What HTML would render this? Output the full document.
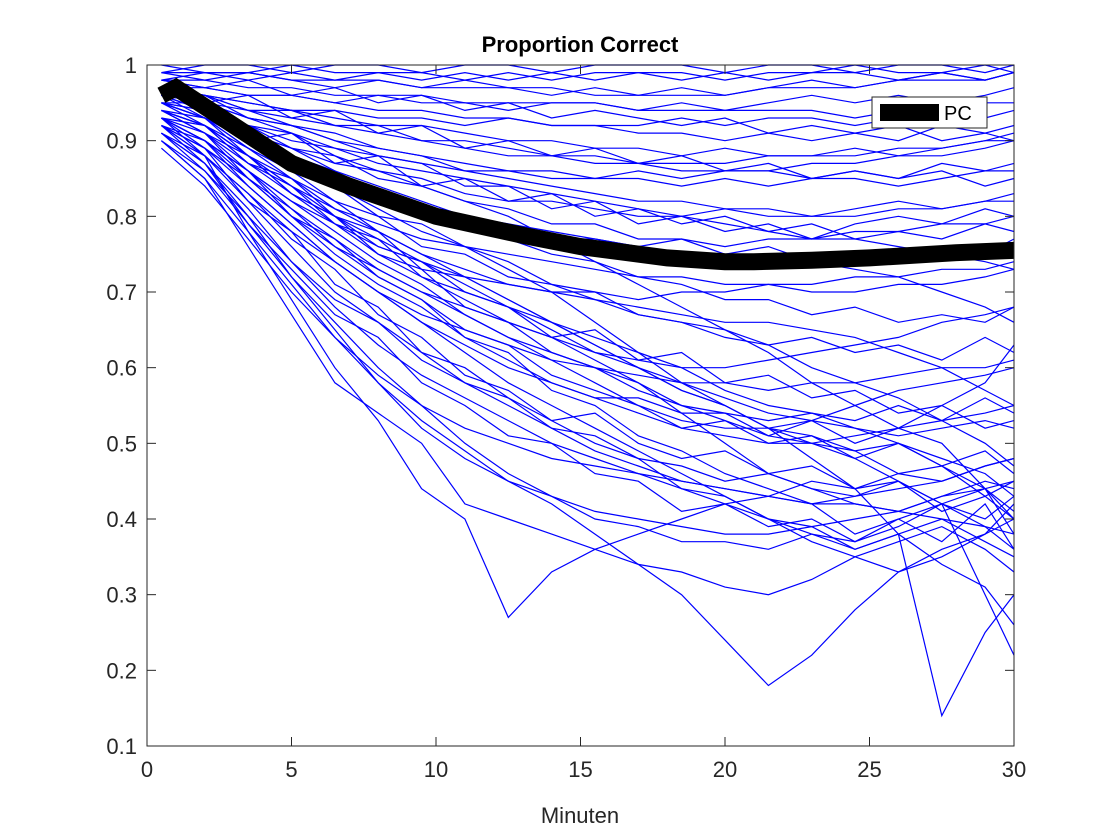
<!DOCTYPE html>
<html><head><meta charset="utf-8"><style>
body{margin:0;background:#fff;}
svg{display:block;font-family:"Liberation Sans",sans-serif;}
</style></head><body>
<svg id="chart" width="1120" height="840">
<rect width="1120" height="840" fill="#fff"/>
<g id="lines"></g>
<g id="axes"></g>
<text x="580" y="52" text-anchor="middle" font-size="22" font-weight="bold" fill="#000">Proportion Correct</text>
<text x="580" y="823" text-anchor="middle" font-size="22" fill="#262626">Minuten</text>
<g>
<rect x="872" y="97" width="115" height="31" fill="#fff" stroke="#262626" stroke-width="1"/>
<line x1="880" y1="112.5" x2="939" y2="112.5" stroke="#000" stroke-width="17"/>
<text x="944" y="120" font-size="20" fill="#000">PC</text>
</g>
</svg>
<script>
const minutes=[0.5,2,3.5,5,6.5,8,9.5,11,12.5,14,15.5,17,18.5,20,21.5,23,24.5,26,27.5,29,30];
const pcMinutes=[0.5,1,3,5,7,10,13,15,18,20,21,23,25,28,30];
const pcValues=[0.96,0.97,0.92,0.87,0.84,0.80,0.775,0.76,0.745,0.74,0.74,0.742,0.745,0.752,0.755];
const xTicks=[0,5,10,15,20,25,30];
const yTicks=[0.1,0.2,0.3,0.4,0.5,0.6,0.7,0.8,0.9,1];
const s01=[0.99,1,1,0.99,1,1,0.99,1,1,0.99,1,1,1,0.99,1,1,0.99,1,1,0.99,1];
const s02=[0.98,0.99,0.98,0.99,0.98,0.99,0.99,0.98,0.99,0.98,0.99,0.99,0.98,0.99,0.98,0.99,0.99,0.98,0.99,0.98,0.99];
const s03=[0.97,0.97,0.96,0.96,0.95,0.96,0.95,0.95,0.94,0.95,0.95,0.94,0.95,0.94,0.95,0.96,0.95,0.96,0.95,0.96,0.97];
const s04=[0.96,0.96,0.95,0.94,0.93,0.92,0.92,0.91,0.90,0.90,0.89,0.89,0.88,0.89,0.88,0.88,0.89,0.88,0.89,0.90,0.90];
const s05=[0.95,0.95,0.93,0.92,0.90,0.89,0.88,0.87,0.86,0.86,0.85,0.85,0.84,0.85,0.84,0.85,0.85,0.84,0.85,0.86,0.86];
const s06=[0.94,0.93,0.91,0.89,0.87,0.86,0.85,0.83,0.82,0.82,0.81,0.80,0.80,0.81,0.80,0.80,0.81,0.82,0.81,0.82,0.83];
const s07=[0.97,0.96,0.95,0.94,0.94,0.93,0.93,0.92,0.93,0.92,0.92,0.92,0.93,0.92,0.93,0.93,0.92,0.93,0.94,0.93,0.94];
const s08=[0.93,0.92,0.89,0.86,0.84,0.82,0.80,0.79,0.78,0.77,0.77,0.76,0.77,0.76,0.77,0.77,0.78,0.78,0.79,0.79,0.80];
const s09=[0.95,0.94,0.92,0.91,0.89,0.88,0.87,0.86,0.86,0.85,0.85,0.86,0.85,0.86,0.86,0.87,0.87,0.88,0.88,0.89,0.90];
const s10=[0.92,0.90,0.86,0.82,0.79,0.76,0.74,0.72,0.71,0.70,0.70,0.69,0.70,0.70,0.71,0.71,0.72,0.72,0.73,0.73,0.74];
const s11=[0.91,0.88,0.83,0.78,0.74,0.70,0.67,0.65,0.63,0.61,0.60,0.59,0.58,0.58,0.57,0.58,0.58,0.59,0.60,0.60,0.61];
const s12=[0.93,0.90,0.85,0.80,0.75,0.71,0.68,0.64,0.61,0.58,0.56,0.54,0.52,0.51,0.50,0.50,0.51,0.52,0.53,0.54,0.55];
const s13=[0.92,0.88,0.82,0.76,0.70,0.66,0.62,0.58,0.55,0.52,0.49,0.47,0.45,0.44,0.43,0.42,0.43,0.44,0.45,0.47,0.48];
const s14=[0.90,0.86,0.79,0.72,0.66,0.60,0.55,0.50,0.46,0.43,0.41,0.40,0.39,0.38,0.38,0.39,0.40,0.41,0.43,0.44,0.45];
const s15=[0.93,0.88,0.78,0.69,0.60,0.53,0.44,0.40,0.27,0.33,0.36,0.38,0.40,0.42,0.43,0.45,0.44,0.46,0.45,0.47,0.48];
const s16=[0.91,0.87,0.80,0.72,0.65,0.58,0.52,0.48,0.45,0.42,0.38,0.34,0.30,0.24,0.18,0.22,0.28,0.33,0.36,0.38,0.40];
const s17=[0.94,0.92,0.88,0.85,0.82,0.78,0.75,0.72,0.69,0.66,0.63,0.60,0.57,0.55,0.52,0.50,0.48,0.45,0.42,0.30,0.22];
const s18=[0.95,0.93,0.90,0.87,0.84,0.81,0.78,0.76,0.73,0.70,0.66,0.62,0.58,0.55,0.52,0.48,0.44,0.38,0.14,0.25,0.30];
const s19=[0.96,0.95,0.93,0.91,0.88,0.86,0.84,0.82,0.80,0.77,0.74,0.71,0.68,0.65,0.62,0.58,0.55,0.52,0.50,0.44,0.40];
const s20=[0.94,0.92,0.88,0.84,0.80,0.77,0.74,0.71,0.68,0.66,0.63,0.60,0.58,0.56,0.54,0.53,0.52,0.51,0.52,0.53,0.52];
const s21=[0.92,0.89,0.84,0.79,0.74,0.70,0.66,0.62,0.58,0.55,0.52,0.49,0.46,0.43,0.40,0.38,0.36,0.38,0.40,0.37,0.35];
const s22=[0.96,0.95,0.94,0.92,0.91,0.89,0.88,0.86,0.85,0.84,0.83,0.82,0.82,0.81,0.81,0.80,0.80,0.81,0.81,0.82,0.82];
const s23=[0.93,0.91,0.87,0.83,0.79,0.75,0.72,0.69,0.66,0.64,0.62,0.61,0.60,0.60,0.61,0.62,0.63,0.64,0.66,0.67,0.68];
const s24=[0.90,0.85,0.76,0.67,0.58,0.54,0.50,0.42,0.40,0.38,0.36,0.34,0.33,0.31,0.30,0.32,0.35,0.37,0.39,0.36,0.33];
const s25=[0.94,0.91,0.86,0.81,0.77,0.73,0.70,0.67,0.64,0.62,0.60,0.57,0.55,0.53,0.51,0.50,0.49,0.50,0.48,0.46,0.43];
const s26=[0.97,0.96,0.94,0.93,0.92,0.91,0.90,0.89,0.88,0.88,0.87,0.87,0.87,0.87,0.88,0.88,0.88,0.89,0.89,0.90,0.91];
const s27=[0.95,0.93,0.89,0.85,0.81,0.78,0.75,0.73,0.71,0.70,0.69,0.68,0.67,0.66,0.66,0.65,0.64,0.62,0.60,0.57,0.55];
const s28=[0.89,0.84,0.77,0.70,0.64,0.59,0.55,0.52,0.50,0.48,0.47,0.46,0.45,0.44,0.43,0.42,0.42,0.41,0.40,0.39,0.38];
const s29=[0.98,0.98,0.97,0.97,0.96,0.96,0.96,0.95,0.95,0.95,0.95,0.94,0.94,0.94,0.94,0.94,0.93,0.94,0.94,0.95,0.95];
const s30=[0.92,0.89,0.85,0.80,0.76,0.73,0.70,0.68,0.66,0.64,0.61,0.58,0.54,0.50,0.46,0.44,0.42,0.41,0.43,0.45,0.44];
const s31=[0.96,0.94,0.91,0.88,0.86,0.84,0.82,0.80,0.79,0.78,0.77,0.76,0.75,0.75,0.74,0.74,0.73,0.72,0.70,0.68,0.66];
const s32=[0.91,0.87,0.81,0.74,0.68,0.63,0.59,0.56,0.53,0.50,0.48,0.46,0.44,0.42,0.40,0.37,0.35,0.33,0.35,0.38,0.42];
const s33=[0.99,0.99,0.99,0.98,0.98,0.98,0.97,0.97,0.97,0.97,0.96,0.96,0.96,0.96,0.97,0.97,0.97,0.98,0.98,0.98,0.99];
const s34=[0.94,0.92,0.88,0.84,0.81,0.79,0.77,0.76,0.75,0.74,0.73,0.72,0.72,0.71,0.71,0.70,0.70,0.71,0.71,0.72,0.73];
const s35=[0.93,0.90,0.86,0.82,0.78,0.74,0.71,0.67,0.64,0.61,0.58,0.55,0.53,0.52,0.52,0.53,0.55,0.57,0.58,0.59,0.60];
const s36=[0.95,0.94,0.92,0.90,0.89,0.87,0.86,0.85,0.84,0.83,0.82,0.81,0.80,0.79,0.78,0.77,0.77,0.76,0.75,0.74,0.73];
const s37=[0.98,0.97,0.98,0.96,0.97,0.95,0.96,0.94,0.95,0.93,0.94,0.93,0.92,0.93,0.91,0.92,0.91,0.92,0.90,0.91,0.90];
const s38=[0.97,0.95,0.96,0.93,0.94,0.91,0.92,0.89,0.90,0.88,0.89,0.87,0.88,0.86,0.87,0.85,0.86,0.85,0.86,0.84,0.85];
const s39=[0.96,0.94,0.90,0.91,0.87,0.88,0.84,0.85,0.82,0.83,0.80,0.81,0.79,0.80,0.78,0.79,0.77,0.78,0.77,0.79,0.78];
const s40=[0.95,0.92,0.87,0.84,0.79,0.77,0.72,0.70,0.68,0.64,0.65,0.61,0.62,0.58,0.59,0.56,0.57,0.54,0.55,0.52,0.53];
const s41=[0.93,0.89,0.82,0.78,0.71,0.68,0.62,0.60,0.56,0.53,0.54,0.50,0.48,0.49,0.46,0.47,0.44,0.45,0.42,0.44,0.41];
const s42=[0.94,0.91,0.85,0.81,0.76,0.72,0.69,0.65,0.63,0.59,0.57,0.55,0.52,0.53,0.50,0.51,0.48,0.50,0.47,0.49,0.46];
const s43=[0.92,0.87,0.79,0.73,0.67,0.64,0.58,0.55,0.51,0.50,0.46,0.45,0.41,0.42,0.39,0.40,0.37,0.39,0.42,0.40,0.43];
const s44=[0.99,0.98,0.99,0.98,0.97,0.98,0.97,0.98,0.97,0.96,0.97,0.96,0.97,0.96,0.97,0.98,0.97,0.98,0.99,0.98,0.99];
const s45=[0.97,0.96,0.93,0.92,0.90,0.88,0.87,0.84,0.84,0.81,0.82,0.79,0.80,0.78,0.79,0.77,0.79,0.80,0.79,0.81,0.80];
const s46=[0.96,0.93,0.89,0.86,0.82,0.80,0.76,0.75,0.72,0.71,0.69,0.67,0.66,0.65,0.63,0.64,0.62,0.63,0.61,0.64,0.62];
const s47=[0.95,0.93,0.88,0.83,0.80,0.75,0.73,0.68,0.66,0.62,0.60,0.58,0.55,0.54,0.51,0.53,0.50,0.52,0.55,0.58,0.63];
const s48=[0.91,0.86,0.80,0.74,0.69,0.66,0.61,0.58,0.56,0.52,0.51,0.48,0.47,0.45,0.46,0.44,0.43,0.45,0.41,0.43,0.40];
const s49=[0.98,0.97,0.96,0.96,0.95,0.94,0.94,0.93,0.93,0.92,0.92,0.91,0.91,0.90,0.91,0.90,0.91,0.90,0.92,0.91,0.92];
const s50=[0.94,0.92,0.87,0.85,0.80,0.78,0.73,0.72,0.69,0.66,0.64,0.62,0.60,0.57,0.55,0.54,0.52,0.50,0.47,0.44,0.38];
const s51=[0.95,0.93,0.90,0.86,0.84,0.80,0.79,0.76,0.74,0.71,0.70,0.67,0.66,0.64,0.63,0.60,0.58,0.56,0.53,0.50,0.47];
const s52=[0.93,0.90,0.86,0.80,0.77,0.72,0.69,0.64,0.62,0.57,0.55,0.51,0.49,0.46,0.44,0.42,0.38,0.40,0.37,0.42,0.36];
const s53=[0.97,0.96,0.94,0.94,0.92,0.92,0.90,0.90,0.89,0.88,0.88,0.87,0.86,0.86,0.86,0.85,0.86,0.85,0.87,0.86,0.87];
const s54=[0.96,0.95,0.91,0.89,0.86,0.83,0.81,0.79,0.77,0.75,0.74,0.72,0.71,0.69,0.69,0.67,0.68,0.66,0.67,0.66,0.68];
const s55=[0.92,0.88,0.83,0.77,0.73,0.67,0.64,0.59,0.57,0.53,0.50,0.48,0.44,0.43,0.40,0.39,0.36,0.38,0.34,0.31,0.26];
const s56=[0.94,0.91,0.88,0.83,0.80,0.76,0.74,0.70,0.68,0.65,0.62,0.60,0.57,0.55,0.52,0.51,0.49,0.46,0.47,0.43,0.45];
const s57=[1.0,0.99,0.99,1.0,0.99,0.99,0.98,0.99,0.98,0.99,0.98,0.99,0.99,0.98,0.99,0.99,1.0,0.99,0.99,1.0,0.99];
const s58=[0.96,0.94,0.92,0.89,0.88,0.85,0.84,0.82,0.81,0.79,0.79,0.77,0.77,0.75,0.76,0.74,0.75,0.74,0.76,0.75,0.77];
const s59=[0.93,0.90,0.84,0.79,0.74,0.70,0.66,0.63,0.60,0.58,0.56,0.56,0.54,0.54,0.53,0.54,0.53,0.55,0.53,0.56,0.54];
const s60=[0.90,0.85,0.78,0.71,0.64,0.58,0.53,0.49,0.45,0.43,0.40,0.39,0.37,0.37,0.36,0.38,0.37,0.40,0.42,0.39,0.36];
const seriesList=[s01,s02,s03,s04,s05,s06,s07,s08,s09,s10,s11,s12,s13,s14,s15,s16,s17,s18,s19,s20,s21,s22,s23,s24,s25,s26,s27,s28,s29,s30,s31,s32,s33,s34,s35,s36,s37,s38,s39,s40,s41,s42,s43,s44,s45,s46,s47,s48,s49,s50,s51,s52,s53,s54,s55,s56,s57,s58,s59,s60];

const NS="http://www.w3.org/2000/svg";
const L=147,R=1014,T=65,B=746;
function xs(v){return L+(v-0)/(30-0)*(R-L);}
function ys(v){return B-(v-0.1)/(1-0.1)*(B-T);}
function mk(tag,attrs,parent){const e=document.createElementNS(NS,tag);for(const k in attrs)e.setAttribute(k,attrs[k]);parent.appendChild(e);return e;}
const lines=document.getElementById('lines');
const axes=document.getElementById('axes');
seriesList.forEach((s,i)=>{
  const d=s.map((v,j)=>(j?'L':'M')+xs(minutes[j]).toFixed(1)+' '+ys(v).toFixed(1)).join(' ');
  const p=mk('path',{d:d,fill:'none',stroke:'#0000ff','stroke-width':1.2},lines);
  
  
});
const pd=pcValues.map((v,j)=>(j?'L':'M')+xs(pcMinutes[j]).toFixed(1)+' '+ys(v).toFixed(1)).join(' ');
const pc=mk('path',{d:pd,fill:'none',stroke:'#000','stroke-width':17},lines);


const box=mk('rect',{x:L,y:T,width:R-L,height:B-T,fill:'none',stroke:'#262626','stroke-width':1},axes);


xTicks.forEach(v=>{
  const x=xs(v);
  mk('line',{x1:x,y1:B,x2:x,y2:B-9,stroke:'#262626'},axes);
  mk('line',{x1:x,y1:T,x2:x,y2:T+9,stroke:'#262626'},axes);
  const t=mk('text',{x:x,y:B+31,'text-anchor':'middle','font-size':22,fill:'#262626'},axes);
  t.textContent=String(v);
  
  
});
yTicks.forEach(v=>{
  const y=ys(v);
  mk('line',{x1:L,y1:y,x2:L+9,y2:y,stroke:'#262626'},axes);
  mk('line',{x1:R,y1:y,x2:R-9,y2:y,stroke:'#262626'},axes);
  const t=mk('text',{x:L-10,y:y+8,'text-anchor':'end','font-size':22,fill:'#262626'},axes);
  t.textContent=(v===1?'1':v.toFixed(1));
  
  
});
</script>
</body></html>
